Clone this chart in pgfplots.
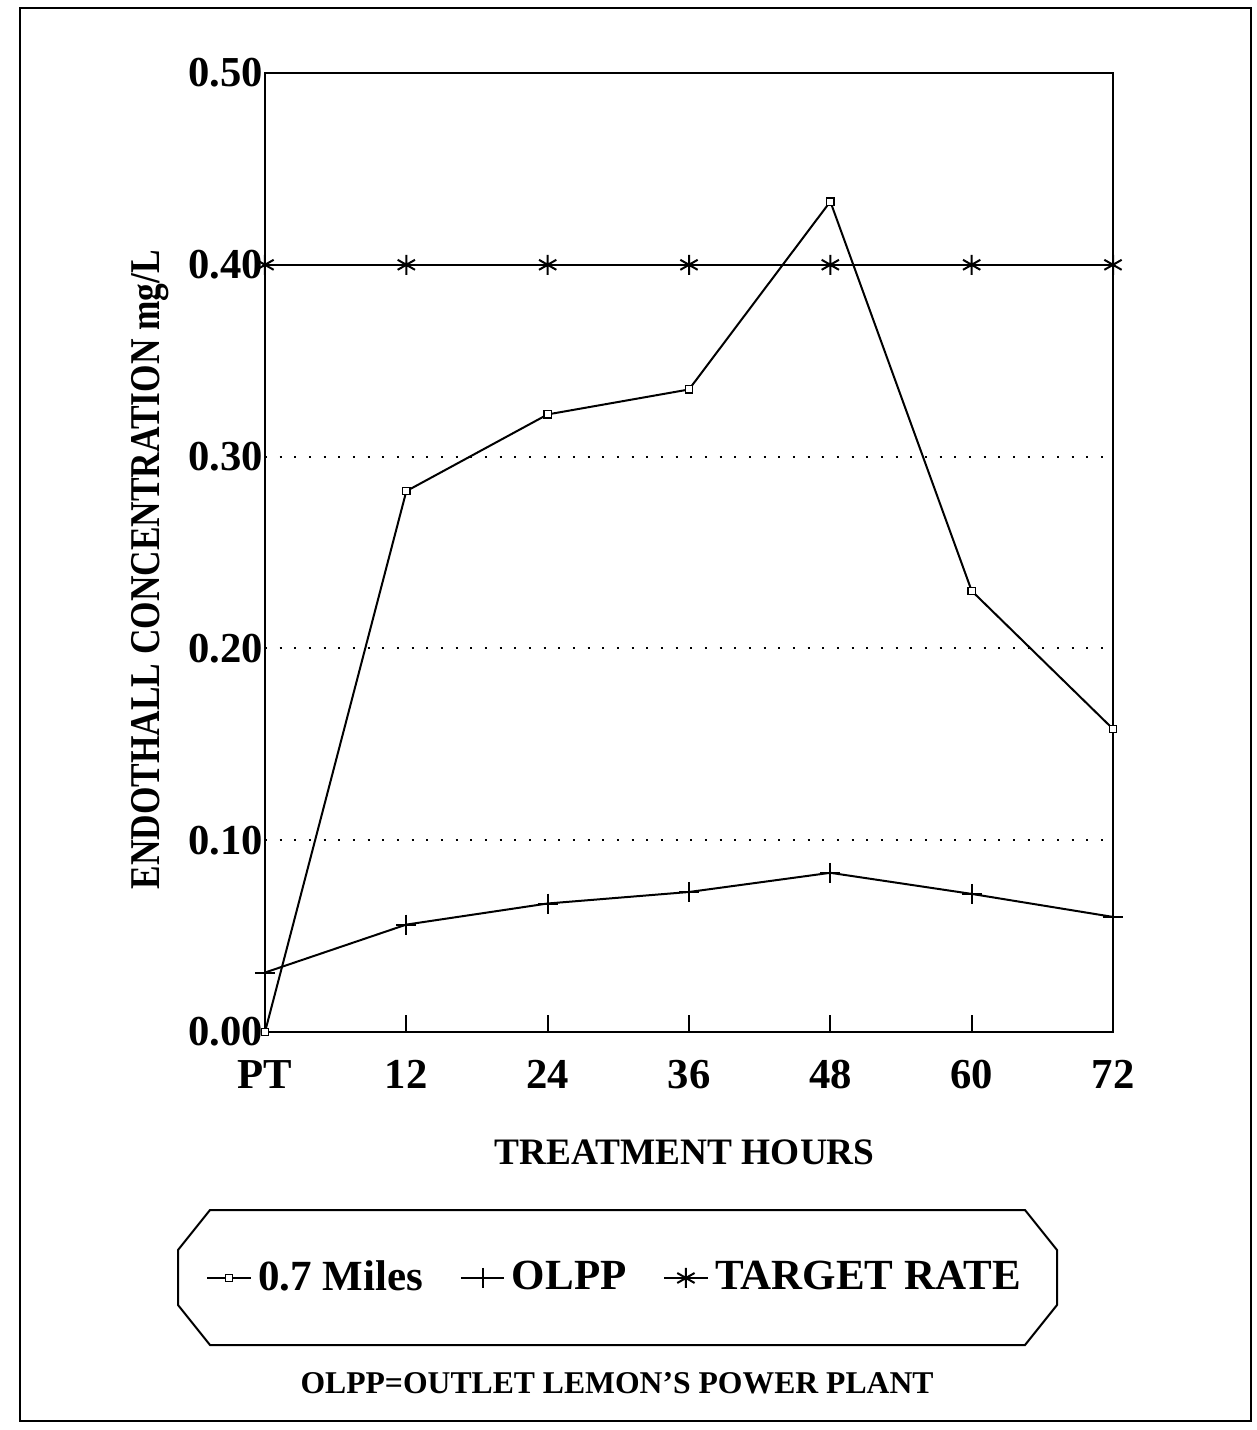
\documentclass[border=0pt]{standalone}
\usepackage{graphicx}
\usepackage{pgfplots}
\pgfplotsset{compat=1.18}
\usepackage{fontspec}
\newfontfamily\tnr{Liberation Serif}
\begin{document}
\begin{tikzpicture}
\begin{scope}[x=0.3pt,y=-0.3pt]
\path (0,0) rectangle (1257,1430);
\draw[line width=0.8pt] (20,8) rectangle (1251,1421);
\draw[line width=0.6pt] (210,1210) -- (1025,1210) -- (1057,1250) -- (1057,1305) -- (1025,1345) -- (210,1345) -- (178,1305) -- (178,1250) -- cycle;
\node[font=\tnr\bfseries\fontsize{9.5}{11}\selectfont] at (617,1383) {OLPP=OUTLET LEMON’S POWER PLANT};
\end{scope}
\begin{axis}[
  at={(79.5pt,-309.6pt)}, anchor=south west,
  scale only axis, width=254.4pt, height=287.7pt,
  xmin=0, xmax=72, ymin=0, ymax=0.5,
  clip=false,
  axis line style={line width=0.6pt},
  xtick={0,12,24,36,48,60,72},
  xticklabels={PT,12,24,36,48,60,72},
  ytick={0,0.1,0.2,0.3,0.4,0.5},
  yticklabels={0.00,0.10,0.20,0.30,0.40,0.50},
  tick align=inside,
  xtick pos=lower, ytick pos=left,
  major tick length=5pt,
  xtick style={line width=0.6pt, black},
  ytick style={draw=none},
  ymajorgrids,
  grid style={black, line width=0.6pt, dash pattern=on 0.6pt off 3.8pt},
  tick label style={font=\tnr\bfseries\fontsize{12.8}{14}\selectfont},
  xticklabel style={yshift=-5pt},
  yticklabel style={xshift=3pt},
  xlabel={TREATMENT HOURS},
  xlabel style={font=\tnr\bfseries\fontsize{11.2}{13}\selectfont, at={(axis description cs:0.495,-0.125)}, anchor=center},
  ylabel={\scalebox{1}[1.2]{\tnr\bfseries\fontsize{10.6}{12}\selectfont ENDOTHALL CONCENTRATION mg/L}},
  ylabel style={at={(axis description cs:-0.1356,0.482)}, anchor=center},
  legend columns=3,
  legend style={draw=none, fill=none, at={(axis description cs:0.415,-0.2565)}, anchor=center,
    font=\tnr\bfseries\fontsize{12.9}{15}\selectfont,
    /tikz/every even column/.append style={column sep=9pt}},
  legend image code/.code={\draw[mark repeat=2,mark phase=2,#1] plot coordinates {(0pt,0pt)(6.5pt,0pt)(13pt,0pt)};},
]
\addplot[black, line width=0.6pt, mark=square*, mark size=1.1pt, mark options={fill=white, line width=0.4pt}]
  coordinates {(0,0.000)(12,0.282)(24,0.322)(36,0.335)(48,0.433)(60,0.230)(72,0.158)};
\addlegendentry{0.7 Miles}
\addplot[black, line width=0.6pt, mark=+, mark size=3pt]
  coordinates {(0,0.031)(12,0.056)(24,0.067)(36,0.073)(48,0.083)(60,0.072)(72,0.060)};
\addlegendentry{OLPP}
\addplot[black, line width=0.6pt, mark=asterisk, mark size=3pt]
  coordinates {(0,0.40)(12,0.40)(24,0.40)(36,0.40)(48,0.40)(60,0.40)(72,0.40)};
\addlegendentry{TARGET RATE}
\end{axis}
\end{tikzpicture}
\end{document}
